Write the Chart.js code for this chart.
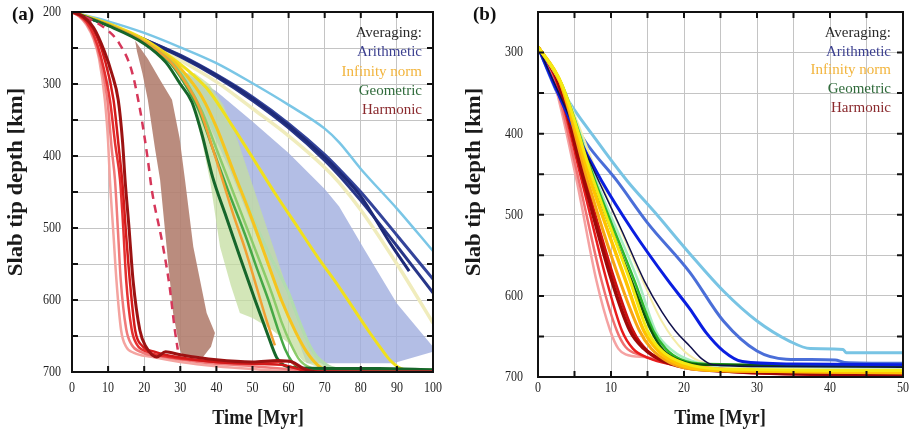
<!DOCTYPE html>
<html>
<head>
<meta charset="utf-8">
<script src="https://cdn.jsdelivr.net/npm/chart.js@4.4.1/dist/chart.umd.min.js"></script>
<style>
  body { margin: 0; background: #fff; }
  #wrap { position: relative; width: 916px; height: 432px; }
  #chartA { position: absolute; left: 0; top: 0; }
  #chartB { position: absolute; left: 460px; top: 0; }
</style>
</head>
<body>
<div id="wrap">
  <canvas id="chartA" width="460" height="432"></canvas>
  <canvas id="chartB" width="456" height="432"></canvas>
</div>
<script>
// ---- Panel (a): slab tip depth [km] vs time [Myr], pairs of [time, depth] ----
const lightBlueA = [[0,200],[10,213],[20,229],[30,249],[40,271],[50,299],[60,329],[70,362],[74,381],[80,418],[90,473],[100,532]];
const navy1A = [[0,200],[10,218],[20,238],[30,261],[40,288],[50,320],[60,358],[70,402],[74,422],[80,456],[88,520],[93.4,560]];
const navy2A = [[0,200],[10,218],[20,238],[30,260],[40,287],[50,318],[60,355],[70,398],[74,418],[80,450],[90,510],[100,571]];
const navy3A = [[0,200],[10,218],[20,239],[30,262],[40,290],[50,323],[60,361],[70,406],[74,427],[80,462],[90,525],[100,590]];
const paleYellowA = [[0,200],[10,218],[20,240],[30,267],[40,297],[50,334],[60,372],[70,416],[74,437],[80,475],[90,550],[100,632]];
const brightYellowA = [[0,200],[10,216],[20,238],[28,265],[33,285],[38,310],[44,355],[50,402],[56,450],[62,495],[68,540],[74,582],[78,612],[82,642],[86,670],[88,683],[91,695],[95,699],[100,700]];
const goldA = [[0,200],[10,217],[20,240],[28,268],[32,290],[36,318],[40,360],[45,425],[49.3,480],[54,545],[58,600],[62,645],[65,672],[68,690],[71,698],[100,700]];
const orangeA = [[0,200],[10,218],[20,242],[27,268],[31,295],[35,330],[39,390],[44.6,480],[48,530],[51.6,590],[54,630],[56.2,663]];
const darkGreenA = [[0,200],[10,219],[20,244],[26,270],[30,300],[33.2,325],[36,370],[39,430],[42.4,480],[46.5,540],[50.7,600],[54,645],[56.7,680],[58.5,690],[62,694],[75,695],[85,695],[100,697]];
const greenA = [[0,200],[10,218],[20,243],[27,270],[31,298],[35,335],[39,390],[43,445],[48,510],[51.5,560],[54.4,600],[57,640],[59,668],[61,686],[63,695],[67,698],[100,698]];
const lightGreenA = [[0,200],[10,218],[20,242],[28,272],[32,300],[36,338],[40,390],[45,455],[50,520],[55.3,590],[58,630],[60.5,660],[63,683],[66,694],[70,697],[100,697]];
const paleGreenA = [[0,200],[10,217],[20,241],[28,270],[33,300],[37,335],[42,390],[48,460],[54,530],[60,590],[63,630],[66,665],[69,685],[73,695],[80,697],[100,697]];
const dashedRedA = [[0,200],[5,210],[10,226],[13,243],[16.5,281],[19,340],[21,405],[22.1,447],[25,520],[27,580],[28.5,642],[29.3,669]];
const pinkA = [[0,200],[2,206],[4,218],[6,238],[7.5,265],[9.1,322],[10,380],[10.5,433],[11.5,510],[12.3,572],[13.6,642],[15,665],[17,673],[22,679],[30,686],[40,692],[50,696],[60,699],[100,700]];
const salmonA = [[0,200],[2,206],[4,216],[6,235],[8,270],[9.8,322],[11,390],[11.9,433],[12.8,510],[13.5,572],[15,640],[16.5,662],[19,672],[25,679],[35,686],[50,692],[62,697],[70,700],[100,700]];
const redA = [[0,200],[2,205],[4,214],[6,232],[8,262],[10.5,322],[12,385],[13.3,433],[14.2,500],[15,572],[16.5,640],[18,662],[21,672],[28,680],[40,686],[52,688],[60,685],[63,693],[67,699],[100,700]];
const red2A = [[0,200],[3,207],[6,225],[9,265],[11.5,322],[13,390],[14,440],[15,510],[16,572],[17.5,642],[19.5,664],[23,672],[30,680],[45,688],[58,690],[62,695],[66,700],[100,700]];
const darkRedA = [[0,200],[3,206],[6,222],[9,255],[11,285],[12.8,322],[14,380],[14.7,433],[15.8,500],[16.9,572],[18.8,642],[20.5,665],[23.5,679],[25.9,672],[30,676],[40,683],[50,686],[57,684],[61,686],[64,695],[68,700],[100,700]];
// shaded ranges (closed outlines)
const blueBandA = [[30,280],[40,310],[50,352],[60,396],[70,446],[74,470],[81,530],[90,605],[100,665],[100,672],[89,688],[65,688],[60,620],[55,560],[49.3,489],[43.7,419],[37.3,350],[30,288]];
const greenBandA = [[30,285],[33,320],[36,380],[38.2,433],[41,526],[44,580],[46.5,618],[50,625],[55,640],[60,660],[64,685],[68,693],[72,693],[66,670],[62,620],[58,560],[54,500],[50,440],[46,380],[42,330],[38,300],[34,285]];
const brownBandA = [[17.5,240],[21,265],[24.5,295],[27.7,322],[29.8,375],[31.3,433],[33.6,526],[37.3,618],[39.6,646],[38.5,665],[36.3,679],[30.5,676],[29.9,669],[28.9,642],[28,618],[26.2,526],[24.4,433],[23,390],[21,322],[19.5,285],[18,255]];

// ---- Panel (b) ----
const lightBlueB = [[0,293],[2,322],[3.6,351],[8,408],[12.2,458],[16,497],[20.8,548],[25.4,594],[30,631],[34.5,656],[37.3,665],[41.8,666],[42.2,670],[50,670]];
const steelBlueB = [[0,293],[2.7,351],[6.5,410],[10.8,458],[15,510],[20.8,571],[25.4,631],[30,668],[34,678],[40.7,679],[42,682],[50,683]];
const blueB = [[0,293],[2,335],[5,395],[8.7,458],[13,520],[17.8,581],[20.8,616],[23,645],[25.4,668],[28,681],[35,684],[50,685]];
const navyB = [[0,293],[4,373],[8.3,458],[11.5,520],[14.6,582],[17,620],[18.8,643],[20.8,662],[22.5,678],[24,685],[30,687],[50,688]];
const paleYellowB = [[0,293],[3.5,345],[8.5,458],[14.2,578],[17,632],[20,668],[23,683],[30,688],[50,689]];
const aquaB = [[0,293],[3.3,340],[8,458],[13.7,581],[16.1,643],[18.5,668],[21,680],[25,686],[50,688]];
const greenB = [[0,293],[3.2,338],[7.8,458],[13.2,581],[15.8,643],[17.5,665],[19.5,678],[23,684],[50,686]];
const darkGreenB = [[0,293],[3.1,337],[7.5,458],[12.8,581],[15.5,643],[17.2,667],[19.5,680],[23,685],[50,686]];
const yellowB = [[0,293],[3.2,338],[7.6,458],[12.6,581],[15,643],[17,668],[20,683],[25,690],[50,692]];
const goldB = [[0,293],[3.1,337],[7.2,458],[12,581],[14.5,643],[16.5,668],[19,683],[23,691],[50,694]];
const orangeB = [[0,293],[3,336],[6.8,458],[11.2,581],[13.9,643],[15.5,665],[18,682],[21,690],[30,693],[50,695]];
const darkRedB = [[0,293],[2.7,335],[6.3,458],[10.1,581],[12.6,643],[14.5,665],[17,680],[20,688],[26,693],[50,698]];
const redB = [[0,293],[2.5,335],[6,458],[9.4,581],[11.5,643],[13,665],[15,676],[18,684],[25,691],[50,697]];
const red2B = [[0,293],[2.8,335],[6.5,458],[10.5,581],[13,643],[15,668],[18,682],[22,690],[50,699]];
const salmonB = [[0,293],[2.3,335],[5.6,458],[8.7,581],[10.8,643],[12,663],[14,673],[18,682],[25,690],[50,695]];
const pinkB = [[0,293],[2,330],[5.3,458],[8,581],[9.9,643],[11,665],[12,672],[15,676],[20,685],[30,692],[50,695]];

// axes
const timeTicksA = [0,10,20,30,40,50,60,70,80,90,100];
const depthGridA = [200,250,300,350,400,450,500,550,600,650,700];
const timeGridB = [0,5,10,15,20,25,30,35,40,45,50];
const timeLabelsB = [0,10,20,30,40,50];
const depthGridB = [250,300,350,400,450,500,550,600,650,700];
const depthLabels = [200,300,400,500,600,700];

const legendLabels = ['Averaging:', 'Arithmetic', 'Infinity norm', 'Geometric', 'Harmonic'];
const legendColors = ['#2a2a2a', '#3b3f8f', '#f2b43c', '#2f6a3a', '#8a2a2e'];

const SERIF = '"Liberation Serif", "Times New Roman", serif';

const pts = arr => arr.map(([x, y]) => ({ x, y }));

function line(data, color, width, extra) {
  return Object.assign({
    data: pts(data),
    borderColor: color,
    borderWidth: width,
    pointRadius: 0,
    fill: false,
    cubicInterpolationMode: 'monotone'
  }, extra || {});
}

function band(data, color) {
  return {
    data: pts(data),
    borderWidth: 0,
    borderColor: 'rgba(0,0,0,0)',
    backgroundColor: color,
    pointRadius: 0,
    tension: 0,
    fill: 'shape'
  };
}

// text with independent x/y scaling (the figure's lettering is narrow and tall)
function drawText(ctx, str, x, y, o) {
  ctx.save();
  ctx.translate(x, y);
  if (o.rotate) ctx.rotate(o.rotate);
  ctx.scale(o.sx || 1, o.sy || 1);
  ctx.font = o.font;
  ctx.fillStyle = o.color || '#222';
  ctx.textAlign = o.align || 'center';
  ctx.textBaseline = 'middle';
  ctx.fillText(str, 0, 0);
  ctx.restore();
}

// black frame, inward tick marks, tick labels, axis titles, panel tag and legend text
const framePlugin = {
  id: 'frame',
  afterDraw(chart, args, opts) {
    const { ctx, chartArea: a, scales: { x, y } } = chart;
    ctx.save();
    ctx.strokeStyle = '#111';
    ctx.lineWidth = 2;
    ctx.beginPath();
    x.ticks.forEach(t => {
      const px = x.getPixelForValue(t.value);
      ctx.moveTo(px, a.top); ctx.lineTo(px, a.top + 6);
      ctx.moveTo(px, a.bottom); ctx.lineTo(px, a.bottom - 6);
    });
    y.ticks.forEach(t => {
      const py = y.getPixelForValue(t.value);
      ctx.moveTo(a.left, py); ctx.lineTo(a.left + 6, py);
      ctx.moveTo(a.right, py); ctx.lineTo(a.right - 6, py);
    });
    ctx.stroke();
    ctx.strokeRect(a.left, a.top, a.right - a.left, a.bottom - a.top);
    ctx.restore();

    const tickFont = '15px ' + SERIF;
    opts.xLabels.forEach(v => {
      drawText(ctx, String(v), x.getPixelForValue(v), 388, { font: tickFont, color: '#222', sx: 0.8 });
    });
    depthLabels.filter(v => v >= y.min && v <= y.max).forEach(v => {
      drawText(ctx, String(v), opts.yLabelRight, y.getPixelForValue(v), { font: tickFont, color: '#222', sx: 0.8, align: 'right' });
    });

    const titleFont = 'bold 21px ' + SERIF;
    drawText(ctx, 'Time [Myr]', opts.xTitleX, 419, { font: titleFont, color: '#1a1a1a', sx: 0.87 });
    drawText(ctx, 'Slab tip depth [km]', opts.yTitleX, 182, { font: titleFont, color: '#1a1a1a', rotate: -Math.PI / 2, sx: 1.08 });

    drawText(ctx, opts.tag, opts.tagX, 15, { font: 'bold 19px ' + SERIF, color: '#111', align: 'left' });

    legendLabels.forEach((txt, i) => {
      drawText(ctx, txt, opts.legendX, opts.legendY + i * opts.legendGap,
        { font: '15px ' + SERIF, color: legendColors[i], align: 'right' });
    });
  }
};

function axes(cfg) {
  return {
    x: {
      type: 'linear',
      min: cfg.xMin, max: cfg.xMax,
      afterBuildTicks: s => { s.ticks = cfg.xGrid.map(v => ({ value: v })); },
      afterFit: s => { s.height = cfg.xHeight; s.paddingLeft = 0; s.paddingRight = 0; },
      ticks: { display: false },
      grid: { color: '#c4c4c4', lineWidth: 1, drawTicks: false },
      border: { display: false }
    },
    y: {
      type: 'linear',
      reverse: true,
      min: cfg.yMin, max: 700,
      afterBuildTicks: s => { s.ticks = cfg.yGrid.map(v => ({ value: v })); },
      afterFit: s => { s.width = cfg.yWidth; s.paddingTop = 0; s.paddingBottom = 0; },
      ticks: { display: false },
      grid: { color: '#c4c4c4', lineWidth: 1, drawTicks: false },
      border: { display: false }
    }
  };
}

const datasetsA = [
  line(darkRedA, '#9c1212', 3),
  line(red2A, '#d41a1a', 2.5),
  line(redA, '#e43030', 2.5),
  line(salmonA, '#f07a7a', 2.5),
  line(pinkA, '#f4a4a0', 2.5),
  line(dashedRedA, '#d6375a', 2.5, { borderDash: [8, 6] }),
  line(darkGreenA, '#16662a', 3),
  line(orangeA, '#f2a032', 2.5),
  line(greenA, '#46a846', 2.5),
  line(lightGreenA, '#8ccc6a', 2.5),
  line(goldA, '#f6c41e', 3),
  line(brightYellowA, '#f0e01c', 3),
  line(paleGreenA, '#b2dcae', 3),
  line(navy1A, '#1e2a78', 3),
  line(navy2A, '#34449a', 3),
  line(navy3A, '#283688', 3),
  line(lightBlueA, '#7ac6e6', 2.5),
  line(paleYellowA, '#f0ecbc', 3.5),
  band(greenBandA, 'rgba(196,222,160,0.75)'),
  band(blueBandA, 'rgba(160,174,222,0.8)'),
  band(brownBandA, 'rgba(178,128,112,0.9)')
];

const datasetsB = [
  line(yellowB, '#f4ea12', 3),
  line(goldB, '#ffc400', 3.5),
  line(orangeB, '#f8a414', 3),
  line(navyB, '#10104a', 1.5),
  line(blueB, '#0a1ee0', 3),
  line(darkGreenB, '#0c560c', 2.5),
  line(greenB, '#2cb82c', 2.5),
  line(aquaB, '#a8ecc0', 2.5),
  line(paleYellowB, '#f4eca8', 2),
  line(darkRedB, '#a00808', 3.5),
  line(red2B, '#cc1010', 3),
  line(redB, '#e81c1c', 2.5),
  line(salmonB, '#f07070', 2.5),
  line(pinkB, '#f5a2a2', 2.5),
  line(steelBlueB, '#4a6ed8', 3),
  line(lightBlueB, '#78c4e4', 3)
];

function makeChart(id, datasets, cfg, frameOpts) {
  return new Chart(document.getElementById(id), {
    type: 'line',
    data: { datasets },
    options: {
      responsive: false,
      animation: false,
      layout: { padding: { top: 12, right: cfg.rightPad, left: 0, bottom: 0 } },
      plugins: { legend: { display: false }, tooltip: { enabled: false }, frame: frameOpts },
      scales: axes(cfg)
    },
    plugins: [framePlugin]
  });
}

makeChart('chartA', datasetsA, {
  xMin: 0, xMax: 100, xGrid: timeTicksA,
  yMin: 200, yGrid: depthGridA,
  xHeight: 60, yWidth: 72, rightPad: 27
}, {
  tag: '(a)', tagX: 12, legendX: 422, legendY: 33, legendGap: 19.3,
  xLabels: timeTicksA, yLabelRight: 61, xTitleX: 258, yTitleX: 17
});

makeChart('chartB', datasetsB, {
  xMin: 0, xMax: 50, xGrid: timeGridB,
  yMin: 250, yGrid: depthGridB,
  xHeight: 55, yWidth: 78, rightPad: 13
}, {
  tag: '(b)', tagX: 13, legendX: 431, legendY: 33, legendGap: 18.7,
  xLabels: timeLabelsB, yLabelRight: 63, xTitleX: 260, yTitleX: 15
});
</script>
</body>
</html>
